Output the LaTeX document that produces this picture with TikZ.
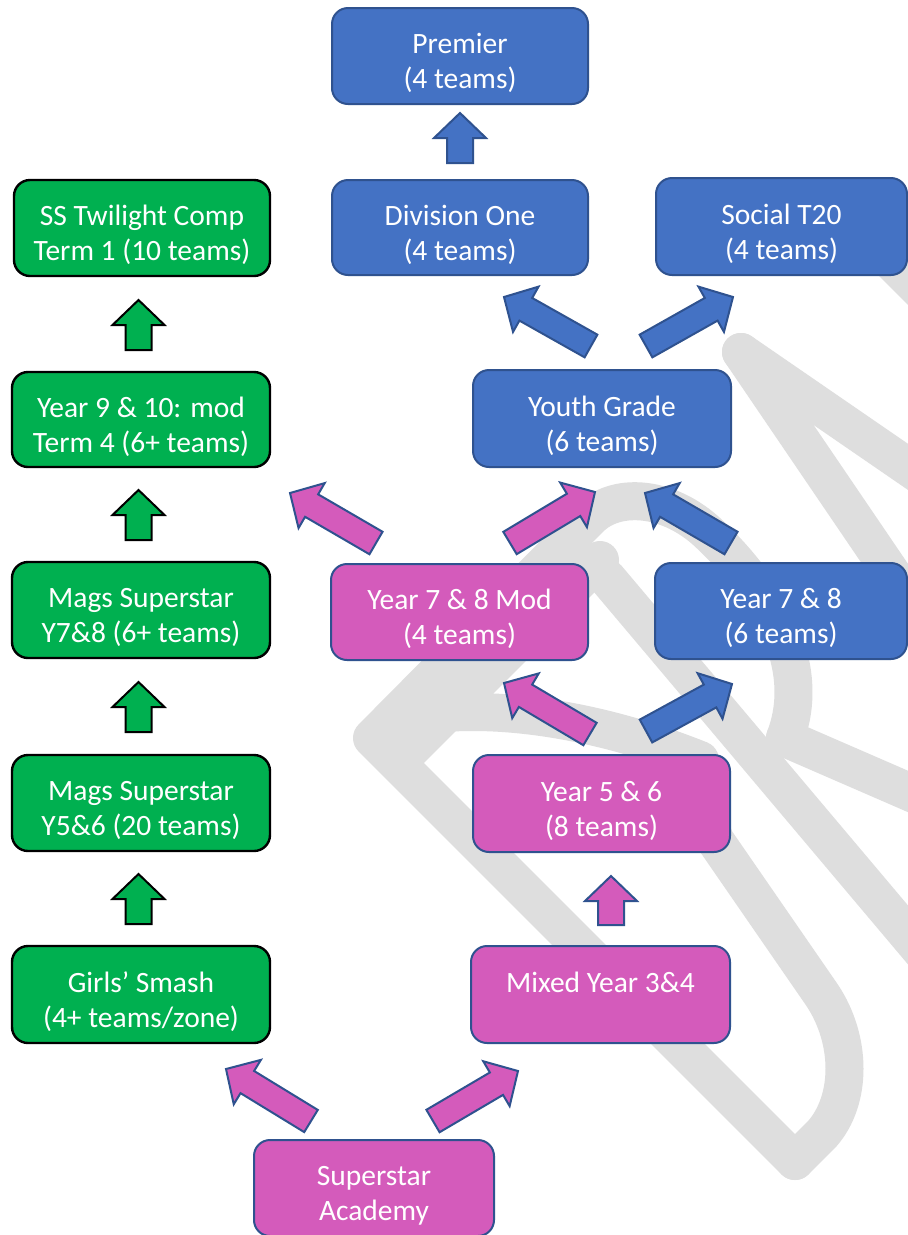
\documentclass[tikz,border=0pt]{standalone}
\usepackage{fontspec}
\setmainfont{Carlito}
\usetikzlibrary{calc}
\definecolor{gfill}{HTML}{00B050}
\definecolor{bfill}{HTML}{4472C4}
\definecolor{pfill}{HTML}{D45BBB}
\definecolor{edgeblue}{HTML}{2F528F}
\definecolor{wmgray}{HTML}{DEDEDE}
\newcommand{\ls}{\rule[-8pt]{0pt}{46pt}}
\newcommand{\blockarr}[3]{%
  \path let \p1=($(#3)-(#2)$) in \pgfextra{%
    \pgfmathsetmacro{\tmpang}{atan2(\y1,\x1)}%
    \pgfmathsetmacro{\tmplen}{veclen(\x1,\y1)}%
    \global\let\barang\tmpang \global\let\barlen\tmplen};
  \draw[#1, shift={(#2)}, rotate=\barang]
    (0pt,-13pt) -- ({\barlen pt-25pt},-13pt) -- ({\barlen pt-25pt},-26pt) -- ({\barlen pt},0pt)
    -- ({\barlen pt-25pt},26pt) -- ({\barlen pt-25pt},13pt) -- (0pt,13pt) -- cycle;
}
\begin{document}
\begin{tikzpicture}[x=1pt,y=-1pt,
  box/.style={rounded corners=16pt, minimum height=96pt, inner sep=0pt, align=center,
    text=white, font={\fontsize{29.5}{35}\selectfont\lineskiplimit=-100pt}, line width=2pt},
  gbox/.style={box, fill=gfill, draw=black, line width=2.4pt},
  bbox/.style={box, fill=bfill, draw=edgeblue},
  pbox/.style={box, fill=pfill, draw=edgeblue},
  garr/.style={fill=gfill, draw=black, line width=2pt},
  barr/.style={fill=bfill, draw=edgeblue, line width=2pt},
  parr/.style={fill=pfill, draw=edgeblue, line width=2pt},
  wm/.style={draw=wmgray, line width=38pt, line cap=round, line join=round}]
\useasboundingbox (0,0) rectangle (908,1235);
\fill[white] (0,0) rectangle (908,1235);
% watermark
\begin{scope}
\clip (0,0) rectangle (908,1235);
\draw[wm] (795,1161) -- (372,738) -- (590,518) .. controls (615,493) and (665,495) .. (705,530) .. controls (760,580) and (815,660) .. (785,738);
\draw[wm] (405,755) -- (600,560);
\draw[wm] (607,578) -- (930,961);
\draw[wm] (785,738) -- (930,801);
\draw[wm] (425,715) .. controls (500,705) and (600,720) .. (700,760);
\draw[wm] (795,1161) -- (822,1134) .. controls (852,1100) and (852,1040) .. (822,995) -- (715,840) -- (700,800);
\draw[wm] (741,352) -- (930,482);
\draw[wm] (741,352) -- (930,630);
\draw[wm] (860,230) -- (960,330);
\end{scope}
% boxes
\node[bbox, minimum width=256pt] (prem) at (460,56) {\ls Premier\\\ls (4 teams)};
\node[bbox, minimum width=256pt, minimum height=95pt] (div1) at (460,227.5) {\ls Division One\\\ls (4 teams)};
\node[bbox, minimum width=251pt, minimum height=97pt] (soc) at (781.5,226.5) {\ls Social T20\\\ls (4 teams)};
\node[gbox, minimum width=256pt] (ssc) at (142,228) {\ls SS Twilight Comp\\\ls Term 1 (10 teams)};
\node[gbox, minimum width=258pt, minimum height=95pt] (y910) at (141,419.5) {\ls Year 9 \& 10: mod\\\ls Term 4 (6+ teams)};
\node[bbox, minimum width=258pt, minimum height=97pt] (yg) at (602,418.5) {\ls Youth Grade\\\ls (6 teams)};
\node[gbox, minimum width=258pt] (my78) at (141,610) {\ls Mags Superstar\\\ls Y7\&8 (6+ teams)};
\node[pbox, minimum width=257pt] (mod) at (459.5,612) {\ls Year 7 \& 8 Mod\\\ls (4 teams)};
\node[bbox, minimum width=252pt] (y78) at (781,611) {\ls Year 7 \& 8\\\ls (6 teams)};
\node[gbox, minimum width=258pt] (my56) at (141,803) {\ls Mags Superstar\\\ls Y5\&6 (20 teams)};
\node[pbox, minimum width=257pt, minimum height=97pt] (y56) at (601.5,803.5) {\ls Year 5 \& 6\\\ls (8 teams)};
\node[gbox, minimum width=258pt, minimum height=97pt] (gs) at (141,994.5) {\ls Girls’ Smash\\\ls (4+ teams/zone)};
\node[pbox, minimum width=259pt, minimum height=97pt] (mix) at (600.5,994.5) {\ls Mixed Year 3\&4\\\ls};
\node[pbox, minimum width=240pt] (sa) at (374,1188) {\ls Superstar\\\ls Academy};
% arrow end points
\coordinate (g1s) at (138.5,350); \coordinate (g1e) at (138.5,300);
\coordinate (g2s) at (138.5,540); \coordinate (g2e) at (138.5,490);
\coordinate (g3s) at (138.5,732); \coordinate (g3e) at (138.5,682);
\coordinate (g4s) at (138.5,924); \coordinate (g4e) at (138.5,874);
\coordinate (b0s) at (460,163); \coordinate (b0e) at (460,113);
\coordinate (p0s) at (611,925); \coordinate (p0e) at (611,876);
\coordinate (a1s) at (591,346); \coordinate (a1e) at (504,297);
\coordinate (a2s) at (646,346); \coordinate (a2e) at (733,297);
\coordinate (a3s) at (376,543); \coordinate (a3e) at (290,493);
\coordinate (a4s) at (510,543); \coordinate (a4e) at (595,492);
\coordinate (a5s) at (731,543); \coordinate (a5e) at (645,493);
\coordinate (a6s) at (590,734); \coordinate (a6e) at (504,683);
\coordinate (a7s) at (646,731); \coordinate (a7e) at (732,684);
\coordinate (a8s) at (311,1121); \coordinate (a8e) at (226,1069);
\coordinate (a9s) at (433,1121); \coordinate (a9e) at (518,1071);
% block arrows
\blockarr{garr}{g1s}{g1e}
\blockarr{garr}{g2s}{g2e}
\blockarr{garr}{g3s}{g3e}
\blockarr{garr}{g4s}{g4e}
\blockarr{barr}{b0s}{b0e}
\blockarr{parr}{p0s}{p0e}
\blockarr{barr}{a1s}{a1e}
\blockarr{barr}{a2s}{a2e}
\blockarr{parr}{a3s}{a3e}
\blockarr{parr}{a4s}{a4e}
\blockarr{barr}{a5s}{a5e}
\blockarr{parr}{a6s}{a6e}
\blockarr{barr}{a7s}{a7e}
\blockarr{parr}{a8s}{a8e}
\blockarr{parr}{a9s}{a9e}
\end{tikzpicture}
\end{document}
